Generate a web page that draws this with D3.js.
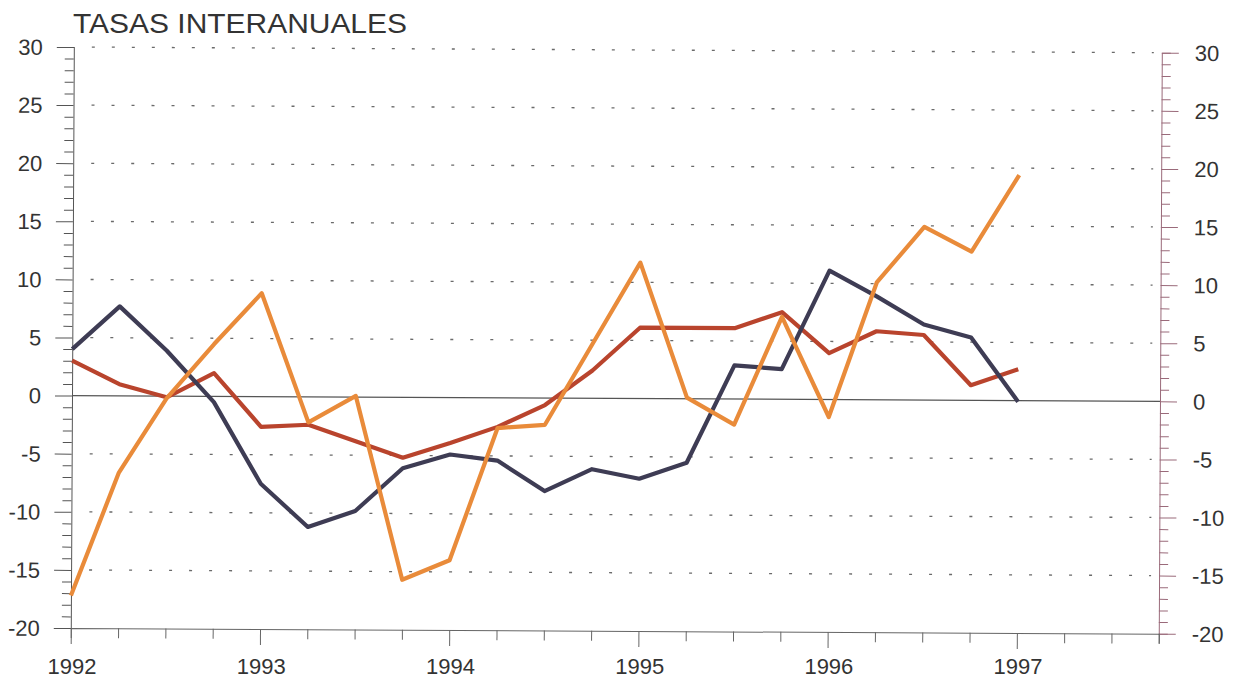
<!DOCTYPE html>
<html>
<head>
<meta charset="UTF-8">
<title>Tasas interanuales</title>
<style>
  body { margin: 0; background: #fff; }
  svg text { font-family: "Liberation Sans", Arial, sans-serif; fill: #333; }
</style>
</head>
<body>
<svg id="chart"></svg>
<script src="https://d3js.org/d3.v7.min.js"></script>
<script>
let width = 1239, height = 682;

// quarters 1992-I ... 1997-I
var quarters = [1992.00, 1992.25, 1992.50, 1992.75, 1993.00, 1993.25, 1993.50, 1993.75,
                1994.00, 1994.25, 1994.50, 1994.75, 1995.00, 1995.25, 1995.50, 1995.75,
                1996.00, 1996.25, 1996.50, 1996.75, 1997.00]
var darkSeries = [4.0, 7.7, 3.9, -0.5, -7.5, -11.2, -9.8, -6.1, -4.9, -5.4, -8.0,
                  -6.1, -6.9, -5.5, 2.9, 2.6, 11.1, 8.9, 6.5, 5.4, -0.1]
var redSeries = [3.0, 1.0, -0.1, 2.0, -2.6, -2.4, -3.8, -5.2, -3.9, -2.5, -0.6,
                 2.4, 6.1, 6.1, 6.1, 7.5, 4.0, 5.9, 5.6, 1.3, 2.7]
var orangeSeries = [-17.2, -6.6, -0.2, 4.5, 8.9, -2.2, 0.1, -15.7, -14.0, -2.6, -2.3,
                    4.7, 11.7, 0.1, -2.2, 7.1, -1.5, 10.1, 14.9, 12.8, 19.4]
var yearLabels = [1992, 1993, 1994, 1995, 1996, 1997]
var yTicks = [-20, -15, -10, -5, 0, 5, 10, 15, 20, 25, 30]

let svg = d3.select("#chart").attr("width", width).attr("height", height)

let x = d3.scaleLinear().domain([1992, 1997.75]).range([72, 1160])
let y = d3.scaleLinear().domain([-20, 30]).range([628, 47])

// title
svg.append("text")
    .attr("x", 73).attr("y", 33)
    .attr("textLength", 334).attr("lengthAdjust", "spacingAndGlyphs")
    .style("font-size", "28.5px")
    .text("TASAS INTERANUALES")

// the scanned page is slightly tilted
let g = svg.append("g").attr("transform", "rotate(0.3, 72, 396)")

// dotted grid
g.append("g").selectAll("line")
    .data(yTicks.filter(d => d != 0 && d != -20))
    .enter().append("line")
    .attr("x1", 90).attr("x2", 1152)
    .attr("y1", d => y(d)).attr("y2", d => y(d))
    .attr("stroke", "#6a6a6a").attr("stroke-width", 1.3)
    .attr("stroke-dasharray", "3,17")

// zero line
g.append("line")
    .attr("x1", 72).attr("x2", 1160)
    .attr("y1", y(0)).attr("y2", y(0))
    .attr("stroke", "#555").attr("stroke-width", 1.2)

// left axis
let leftAxis = d3.axisLeft(y).tickValues(d3.range(-20, 31, 1)).tickFormat("").tickSize(9)
g.append("g").attr("transform", "translate(72,0)").call(leftAxis)
    .call(a => a.select(".domain").attr("stroke", "#555"))
    .call(a => a.selectAll(".tick line").attr("stroke", "#555")
        .attr("x2", d => d % 5 == 0 ? -17 : -9))
g.append("g").selectAll("text")
    .data(yTicks).enter().append("text")
    .attr("x", 41).attr("y", d => y(d) + 8)
    .attr("text-anchor", "end")
    .style("font-size", "22px")
    .text(d => d)

// right axis
let rightAxis = d3.axisRight(y).tickValues(d3.range(-20, 31, 1)).tickFormat("").tickSize(9)
g.append("g").attr("transform", "translate(1160,0)").call(rightAxis)
    .call(a => a.select(".domain").attr("stroke", "#9a6a7a"))
    .call(a => a.selectAll(".tick line").attr("stroke", "#9a6a7a")
        .attr("x2", d => d % 5 == 0 ? 17 : 9))
g.append("g").selectAll("text")
    .data(yTicks).enter().append("text")
    .attr("x", 1193).attr("y", d => y(d) + 8)
    .style("font-size", "22px")
    .text(d => d)

// bottom axis
let bottomAxis = d3.axisBottom(x).tickValues(d3.range(1992, 1997.8, 0.25)).tickFormat("").tickSize(10)
g.append("g").attr("transform", "translate(0," + y(-20) + ")").call(bottomAxis)
    .call(a => a.select(".domain").attr("stroke", "#666"))
    .call(a => a.selectAll(".tick line").attr("stroke", "#666")
        .attr("y2", d => Number.isInteger(d) ? 16 : 10))

// year labels kept level so they stay inside the page
svg.append("g").selectAll("text")
    .data(yearLabels).enter().append("text")
    .attr("x", d => x(d)).attr("y", 674)
    .attr("text-anchor", "middle")
    .style("font-size", "22px")
    .text(d => d)

// lines
let line = d3.line().x((d, i) => x(quarters[i])).y(d => y(d))
let series = [
    {values: redSeries, color: "#b9442d"},
    {values: darkSeries, color: "#3e3c54"},
    {values: orangeSeries, color: "#e98b3a"}
]
g.append("g").selectAll("path")
    .data(series).enter().append("path")
    .attr("d", d => line(d.values))
    .attr("fill", "none")
    .attr("stroke", d => d.color)
    .attr("stroke-width", 4.2)
    .attr("stroke-linejoin", "round")
</script>
</body>
</html>
